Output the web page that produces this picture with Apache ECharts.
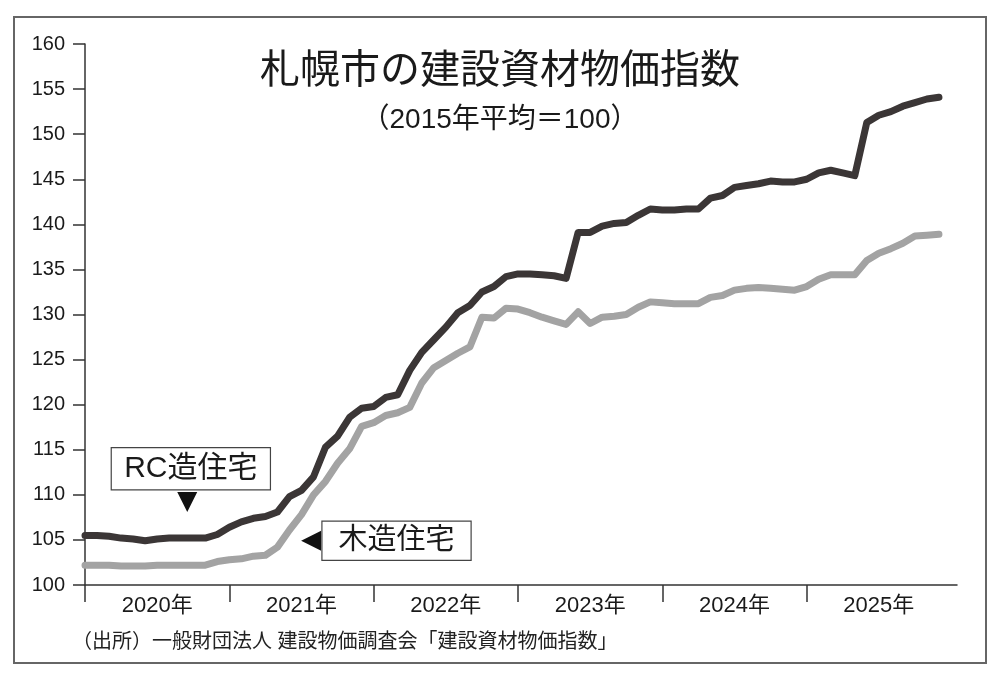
<!DOCTYPE html>
<html><head><meta charset="utf-8">
<script src="https://cdn.jsdelivr.net/npm/echarts@6/dist/echarts.min.js"></script>
<style>html,body{margin:0;padding:0;background:#fff}#c{width:1000px;height:679px}</style>
</head><body><div id="c"></div>
<script>
// Monthly index, Jan 2020 .. Dec 2025 (month index 0..71)
const yearLabels = ['2020年','2021年','2022年','2023年','2024年','2025年'];
const yTicks = [100,105,110,115,120,125,130,135,140,145,150,155,160];
const rcValues = [
 105.5,105.5,105.4,105.2,105.1,104.9,105.1,105.2,105.2,105.2,105.2,105.6,
 106.4,107.0,107.4,107.6,108.1,109.8,110.5,112.0,115.3,116.5,118.6,119.6,
 119.8,120.8,121.1,123.8,125.8,127.2,128.6,130.2,131.0,132.5,133.1,134.2,
 134.5,134.5,134.4,134.3,134.0,139.1,139.1,139.8,140.1,140.2,141.0,141.7,
 141.6,141.6,141.7,141.7,142.9,143.2,144.1,144.3,144.5,144.8,144.7,144.7,
 145.0,145.7,146.0,145.7,145.4,151.3,152.1,152.5,153.1,153.5,153.9,154.1
];
const woodValues = [
 102.2,102.2,102.2,102.1,102.1,102.1,102.2,102.2,102.2,102.2,102.2,102.6,
 102.8,102.9,103.2,103.3,104.2,106.1,107.8,110.0,111.5,113.5,115.1,117.6,
 118.0,118.8,119.1,119.7,122.4,124.1,124.9,125.7,126.4,129.7,129.6,130.7,
 130.6,130.2,129.7,129.3,128.9,130.3,129.0,129.7,129.8,130.0,130.8,131.4,
 131.3,131.2,131.2,131.2,131.9,132.1,132.7,132.9,133.0,132.9,132.8,132.7,
 133.1,133.9,134.4,134.4,134.4,136.0,136.8,137.3,137.9,138.7,138.8,138.9
];
const seriesNames = ['RC造住宅','木造住宅'];

const FONT = "'Liberation Sans', 'Noto Sans CJK JP', sans-serif";
const toPairs = arr => arr.map((v,i)=>[i,v]);

const boxLabel = (txt, size, w, h) => ({
  show:true, position:'inside', formatter:txt, fontFamily:FONT, fontSize:size, color:'#1a1a1a',
  backgroundColor:'#fff', borderColor:'#444', borderWidth:1.2,
  width:w, height:h, lineHeight:h, align:'center', verticalAlign:'middle'
});

const chart = echarts.init(document.getElementById('c'), null, {renderer:'canvas'});
chart.setOption({
  animation:false,
  backgroundColor:'#fff',
  title:[
    {text:'札幌市の建設資材物価指数', left:'center', top:47,
     textStyle:{fontFamily:FONT, fontSize:40, fontWeight:'normal', color:'#1a1a1a'}},
    {text:'（2015年平均＝100）', left:'center', top:101,
     textStyle:{fontFamily:FONT, fontSize:28, fontWeight:'normal', color:'#1a1a1a'}}
  ],
  graphic:[
    {type:'rect', shape:{x:14,y:17,width:972,height:646}, style:{fill:'none', stroke:'#666', lineWidth:2}, z:-1},
    {type:'text', left:72, top:632, style:{text:'（出所）一般財団法人 建設物価調査会「建設資材物価指数」', font:"20px 'Liberation Sans', 'Noto Sans CJK JP', sans-serif", fill:'#222'}}
  ],
  grid:{left:85, right:43, top:44, bottom:94, containLabel:false},
  xAxis:{type:'value', min:0, max:72.5,
    axisLine:{show:true, lineStyle:{color:'#333', width:1.5}},
    axisTick:{show:true, inside:false, length:17, lineStyle:{color:'#333', width:1.5}, customValues:[0,12,24,36,48,60]},
    axisLabel:{show:true, margin:10, fontFamily:FONT, fontSize:22, color:'#1a1a1a',
      customValues:[6,18,30,42,54,66],
      formatter:v=>yearLabels[Math.round((v-6)/12)]||''},
    splitLine:{show:false}
  },
  yAxis:{type:'value', min:100, max:160, interval:5,
    axisLine:{show:true, lineStyle:{color:'#333', width:1.5}},
    axisTick:{show:true, length:12, lineStyle:{color:'#333', width:1.5}},
    axisLabel:{margin:20, fontFamily:FONT, fontSize:20, color:'#1a1a1a',
      formatter:v=>yTicks.includes(v)?String(v):''},
    splitLine:{show:false}
  },
  series:[
    {name:seriesNames[1], type:'line', data:toPairs(woodValues), showSymbol:false, z:2,
     lineStyle:{color:'#a3a3a3', width:7, cap:'round', join:'round'},
     markPoint:{silent:true, data:[
       {coord:[25.9,104.9], symbol:'rect', symbolSize:[1,1], itemStyle:{color:'rgba(0,0,0,0)'},
        label:boxLabel(seriesNames[1], 29, 148, 38)},
       {coord:[18.8,104.9], symbol:'triangle', symbolSize:[20,20], symbolRotate:90,
        itemStyle:{color:'#111'}, label:{show:false}}
     ]}
    },
    {name:seriesNames[0], type:'line', data:toPairs(rcValues), showSymbol:false, z:3,
     lineStyle:{color:'#3b3636', width:7, cap:'round', join:'round'},
     markPoint:{silent:true, data:[
       {coord:[8.8,112.9], symbol:'rect', symbolSize:[1,1], itemStyle:{color:'rgba(0,0,0,0)'},
        label:boxLabel(seriesNames[0], 30, 158, 41)},
       {coord:[8.5,109.2], symbol:'triangle', symbolSize:[20,20], symbolRotate:180,
        itemStyle:{color:'#111'}, label:{show:false}}
     ]}
    }
  ]
});
</script></body></html>
